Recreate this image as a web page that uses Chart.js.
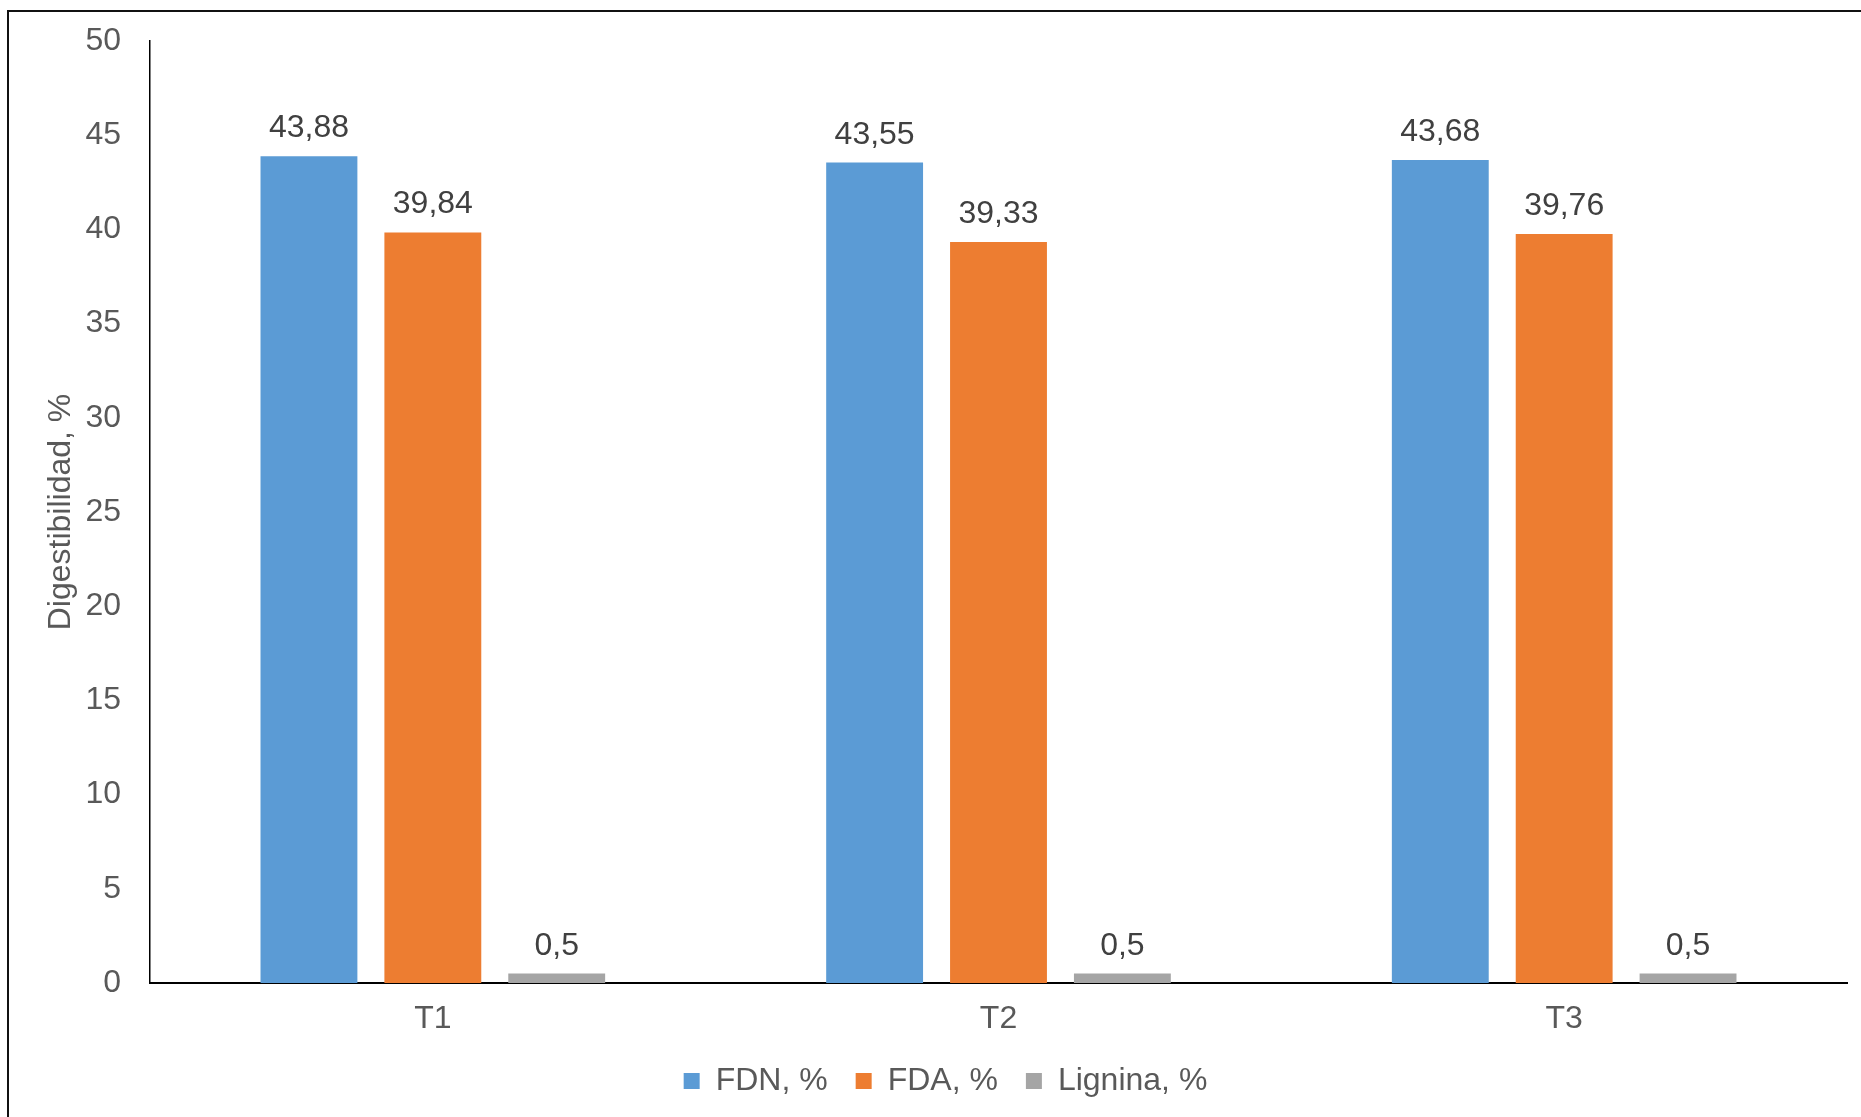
<!DOCTYPE html>
<html>
<head>
<meta charset="utf-8">
<title>Digestibilidad</title>
<script src="https://cdn.jsdelivr.net/npm/chart.js@4/dist/chart.umd.min.js"></script>
<style>
  html, body { margin: 0; padding: 0; background: #fff; }
  #wrap { position: relative; width: 1861px; height: 1117px; }
</style>
</head>
<body>
<div id="wrap"><canvas id="c" width="1861" height="1117"></canvas></div>
<script>
// Treatments and measured fractions
const categories = ['T1', 'T2', 'T3'];
const fdn = [43.88, 43.55, 43.68];
const fda = [39.84, 39.33, 39.76];
const lignina = [0.5, 0.5, 0.5];
const seriesNames = ['FDN, %', 'FDA, %', 'Lignina, %'];
const yTicks = [0, 5, 10, 15, 20, 25, 30, 35, 40, 45, 50];
const yTitle = 'Digestibilidad, %';

const FONT = '"Liberation Sans", Arial, Helvetica, sans-serif';
const FS = 32;

// Value labels above each bar, with decimal comma
const valueLabels = {
  id: 'valueLabels',
  afterDatasetsDraw(chart) {
    const ctx = chart.ctx;
    ctx.save();
    ctx.font = FS + 'px ' + FONT;
    ctx.fillStyle = '#404040';
    ctx.textAlign = 'center';
    ctx.textBaseline = 'alphabetic';
    chart.data.datasets.forEach((ds, i) => {
      chart.getDatasetMeta(i).data.forEach((bar, j) => {
        const txt = String(ds.data[j]).replace('.', ',');
        ctx.fillText(txt, bar.x, bar.y - 19);
      });
    });
    ctx.restore();
  }
};

// Outer frame of the chart
const frame = {
  id: 'frame',
  afterDraw(chart) {
    const ctx = chart.ctx;
    ctx.save();
    ctx.strokeStyle = '#111';
    ctx.lineWidth = 2;
    ctx.beginPath();
    ctx.moveTo(8, 1117);
    ctx.lineTo(8, 11);
    ctx.lineTo(1861, 11);
    ctx.stroke();
    ctx.restore();
  }
};

const barOpts = { categoryPercentage: 0.657, barPercentage: 0.782, borderWidth: 0 };

new Chart(document.getElementById('c'), {
  type: 'bar',
  data: {
    labels: categories,
    datasets: [
      Object.assign({ label: seriesNames[0], data: fdn, backgroundColor: '#5B9BD5' }, barOpts),
      Object.assign({ label: seriesNames[1], data: fda, backgroundColor: '#ED7D31' }, barOpts),
      Object.assign({ label: seriesNames[2], data: lignina, backgroundColor: '#A5A5A5' }, barOpts)
    ]
  },
  options: {
    responsive: false,
    animation: false,
    devicePixelRatio: 1,
    layout: { padding: { top: 41, right: 14, bottom: 10, left: 44 } },
    plugins: {
      legend: {
        position: 'bottom',
        labels: {
          boxWidth: 16,
          boxHeight: 16,
          padding: 28,
          color: '#595959',
          font: { family: FONT, size: FS }
        }
      },
      tooltip: { enabled: false }
    },
    scales: {
      x: {
        afterFit(scale) { scale.height = 54; },
        grid: { display: false, drawTicks: false },
        border: { display: true, color: '#000', width: 2 },
        ticks: { color: '#595959', font: { family: FONT, size: FS }, padding: 17 }
      },
      y: {
        min: 0,
        max: 50,
        afterBuildTicks(scale) { scale.ticks = yTicks.map(v => ({ value: v })); },
        afterFit(scale) { scale.width = 106; },
        grid: { display: false, drawTicks: true, tickLength: 29 },
        border: { display: true, color: '#000', width: 1.5 },
        ticks: { color: '#595959', font: { family: FONT, size: FS }, padding: 0 },
        title: {
          display: true,
          text: yTitle,
          color: '#595959',
          font: { family: FONT, size: FS },
          padding: { top: -2, bottom: 0 }
        }
      }
    }
  },
  plugins: [valueLabels, frame]
});
</script>
</body>
</html>
